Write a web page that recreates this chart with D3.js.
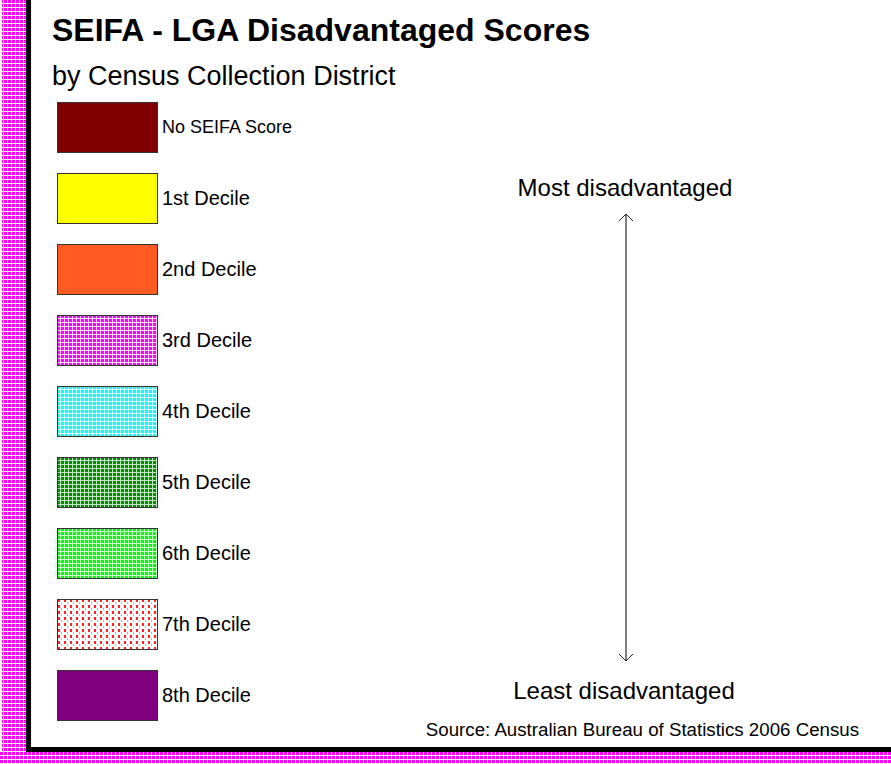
<!DOCTYPE html>
<html>
<head>
<meta charset="utf-8">
<script src="https://cdn.jsdelivr.net/npm/d3@7"></script>
<style>
  body { margin: 0; background: #fff; }
  svg { display: block; font-family: "Liberation Sans", Arial, sans-serif; }
</style>
</head>
<body>
<div id="chart"></div>
<script>
// legend data
const categories = ["No SEIFA Score", "1st Decile", "2nd Decile", "3rd Decile", "4th Decile",
                    "5th Decile", "6th Decile", "7th Decile", "8th Decile"];
const fills = ["#800000", "#ffff00", "#ff5a22", "url(#pMag)", "url(#pCyan)",
               "url(#pGreen)", "url(#pLime)", "url(#pRed)", "#800080"];
const scaleEnds = ["Most disadvantaged", "Least disadvantaged"];

const width = 891, height = 764;

const svg = d3.select("#chart").append("svg")
  .attr("width", width)
  .attr("height", height);

const defs = svg.append("defs");

// small checker patterns (coloured squares on a light grid)
function checker(id, bg, fg) {
  const p = defs.append("pattern")
    .attr("id", id)
    .attr("patternUnits", "userSpaceOnUse")
    .attr("width", 4).attr("height", 4);
  p.append("rect").attr("width", 4).attr("height", 4).attr("fill", bg);
  p.append("rect").attr("width", 3).attr("height", 3).attr("fill", fg);
}
checker("pMag", "#ffe0ff", "#ff00ff");
checker("pCyan", "#e0ffff", "#00ffff");
checker("pGreen", "#c8e4c8", "#009000");
checker("pLime", "#d0ffd0", "#00ff00");

// red dotted vertical lines
const pr = defs.append("pattern")
  .attr("id", "pRed")
  .attr("patternUnits", "userSpaceOnUse")
  .attr("width", 6).attr("height", 6);
pr.append("rect").attr("width", 6).attr("height", 6).attr("fill", "#fff");
pr.append("rect").attr("x", 1).attr("y", 0).attr("width", 2).attr("height", 3).attr("fill", "#ff2020");
pr.append("rect").attr("x", 4).attr("y", 3).attr("width", 1).attr("height", 2).attr("fill", "#ff9090");

// frame: pink strip + black line on left and bottom
svg.append("rect").attr("x", 2).attr("y", 0).attr("width", 24).attr("height", height).attr("fill", "url(#pMag)");
svg.append("rect").attr("x", 0).attr("y", 752).attr("width", width).attr("height", 12).attr("fill", "url(#pMag)");
svg.append("rect").attr("x", 26).attr("y", 0).attr("width", 5).attr("height", 752).attr("fill", "#000");
svg.append("rect").attr("x", 26).attr("y", 747).attr("width", width - 26).attr("height", 5).attr("fill", "#000");

// titles
svg.append("text")
  .attr("x", 52).attr("y", 41)
  .attr("font-size", 32).attr("font-weight", "bold")
  .text("SEIFA - LGA Disadvantaged Scores");

svg.append("text")
  .attr("x", 52).attr("y", 85)
  .attr("font-size", 27)
  .text("by Census Collection District");

// legend
const yScale = d3.scaleBand()
  .domain(categories)
  .range([102, 720])
  .paddingInner(0.3)
  .round(true);

const items = svg.selectAll(".item")
  .data(categories)
  .enter()
  .append("g")
    .attr("class", "item")
    .attr("transform", d => `translate(57, ${yScale(d)})`);

items.append("rect")
  .attr("x", 0.5).attr("y", 0.5)
  .attr("width", 100)
  .attr("height", yScale.bandwidth())
  .attr("fill", (d, i) => fills[i])
  .attr("stroke", "#333")
  .attr("stroke-width", 1);

items.append("text")
  .attr("x", 105)
  .attr("y", yScale.bandwidth() / 2)
  .attr("dy", "0.35em")
  .attr("font-size", (d, i) => i === 0 ? 18 : 20)
  .text(d => d);

// arrow from most to least disadvantaged
const arrowX = 626;
const yArrow = d3.scaleLinear().domain([0, 1]).range([214, 661]);

svg.append("line")
  .attr("x1", arrowX).attr("x2", arrowX)
  .attr("y1", yArrow(0)).attr("y2", yArrow(1))
  .attr("stroke", "#555").attr("stroke-width", 1.5);

svg.append("path")
  .attr("d", `M${arrowX - 7},${yArrow(0) + 7} L${arrowX},${yArrow(0)} L${arrowX + 7},${yArrow(0) + 7}`)
  .attr("fill", "none").attr("stroke", "#222").attr("stroke-width", 1);
svg.append("path")
  .attr("d", `M${arrowX - 7},${yArrow(1) - 7} L${arrowX},${yArrow(1)} L${arrowX + 7},${yArrow(1) - 7}`)
  .attr("fill", "none").attr("stroke", "#222").attr("stroke-width", 1);

svg.append("text")
  .attr("x", 625).attr("y", 196)
  .attr("text-anchor", "middle")
  .attr("font-size", 24)
  .text(scaleEnds[0]);

svg.append("text")
  .attr("x", 624).attr("y", 699)
  .attr("text-anchor", "middle")
  .attr("font-size", 24)
  .text(scaleEnds[1]);

svg.append("text")
  .attr("x", 859).attr("y", 736)
  .attr("text-anchor", "end")
  .attr("font-size", 18.7)
  .text("Source: Australian Bureau of Statistics 2006 Census");
</script>
</body>
</html>
